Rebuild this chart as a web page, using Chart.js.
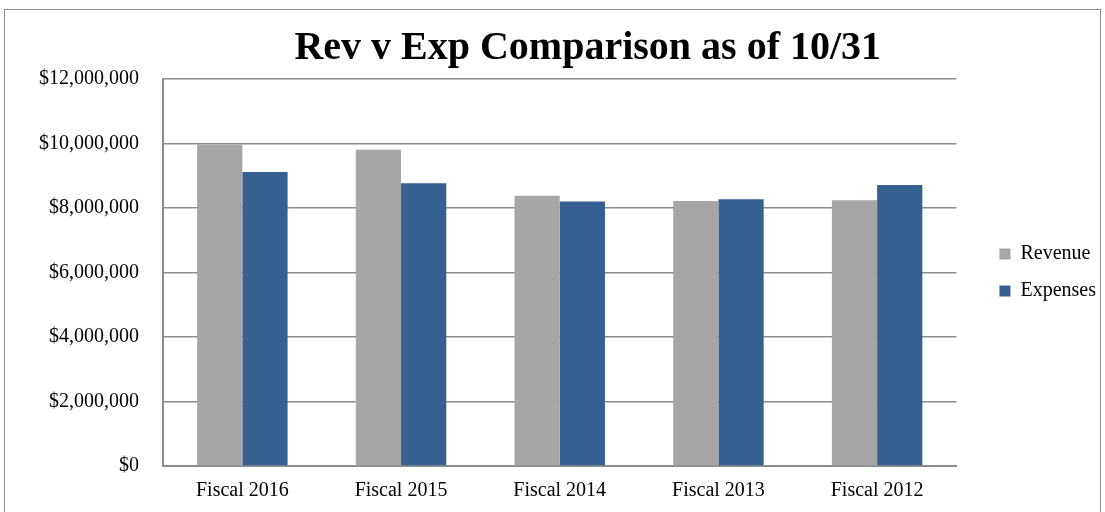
<!DOCTYPE html>
<html>
<head>
<meta charset="utf-8">
<script src="https://cdn.jsdelivr.net/npm/chart.js@4"></script>
<style>
  html, body { margin: 0; padding: 0; background: #fff; overflow: hidden; }
  #frame { position: absolute; left: 4px; top: 9px; width: 1095px; height: 520px; border: 1px solid #8c8c8c; }
  #wrap { position: relative; width: 1095px; height: 503px; }
</style>
</head>
<body>
<div id="frame"><div id="wrap"><canvas id="myChart"></canvas></div></div>
<script>
var categories = ['Fiscal 2016', 'Fiscal 2015', 'Fiscal 2014', 'Fiscal 2013', 'Fiscal 2012'];
var revenue = [9970000, 9810000, 8380000, 8220000, 8240000];
var expenses = [9120000, 8770000, 8200000, 8270000, 8710000];
var titleText = 'Rev v Exp Comparison as of 10/31';

var serif = '"Liberation Serif", "Times New Roman", serif';

// title is centred a bit right of the plot, like the original
var titlePlugin = {
  id: 'offsetTitle',
  afterDraw: function (chart) {
    var c = chart.ctx;
    var a = chart.chartArea;
    c.save();
    c.font = 'bold 40px ' + serif;
    c.fillStyle = '#000';
    c.textAlign = 'center';
    c.textBaseline = 'middle';
    c.fillText(titleText, (a.left + a.right) / 2 + 28, 39);
    c.restore();
  }
};

window.onload = function () {
  var ctx = document.getElementById('myChart').getContext('2d');
  new Chart(ctx, {
    type: 'bar',
    data: {
      labels: categories,
      datasets: [
        { label: 'Revenue', data: revenue, backgroundColor: '#a6a6a6', borderWidth: 0 },
        { label: 'Expenses', data: expenses, backgroundColor: '#376092', borderWidth: 0 }
      ]
    },
    options: {
      responsive: true,
      maintainAspectRatio: false,
      animation: false,
      layout: { padding: { top: 69, right: -6, left: 0, bottom: 0 } },
      plugins: {
        title: { display: false },
        tooltip: { enabled: false },
        legend: {
          position: 'right',
          fullSize: false,
          labels: {
            boxWidth: 11,
            boxHeight: 11,
            padding: 17,
            color: '#000',
            font: { family: serif, size: 20 }
          }
        }
      },
      datasets: { bar: { categoryPercentage: 0.57, barPercentage: 1.0 } },
      scales: {
        x: {
          grid: { display: false, drawTicks: false },
          border: { color: '#8c8c8c', width: 2 },
          ticks: { color: '#000', padding: 13, font: { family: serif, size: 20 } },
          afterFit: function (s) { s.height = 47; }
        },
        y: {
          min: 0,
          max: 12000000,
          ticks: {
            stepSize: 2000000,
            color: '#000',
            padding: 24,
            font: { family: serif, size: 20 },
            callback: function (v) { return '$' + v.toLocaleString('en-US'); }
          },
          grid: { color: '#8c8c8c', lineWidth: 1.5, drawTicks: false },
          border: { color: '#8c8c8c', width: 2 },
          afterFit: function (s) { s.width = 158; }
        },
        // empty axis, only keeps a gap between the plot and the legend
        gap: {
          type: 'linear',
          position: 'right',
          display: true,
          grid: { display: false, drawTicks: false },
          border: { display: false },
          ticks: { display: false },
          afterFit: function (s) { s.width = 26; }
        }
      }
    },
    plugins: [titlePlugin]
  });
};
</script>
</body>
</html>
